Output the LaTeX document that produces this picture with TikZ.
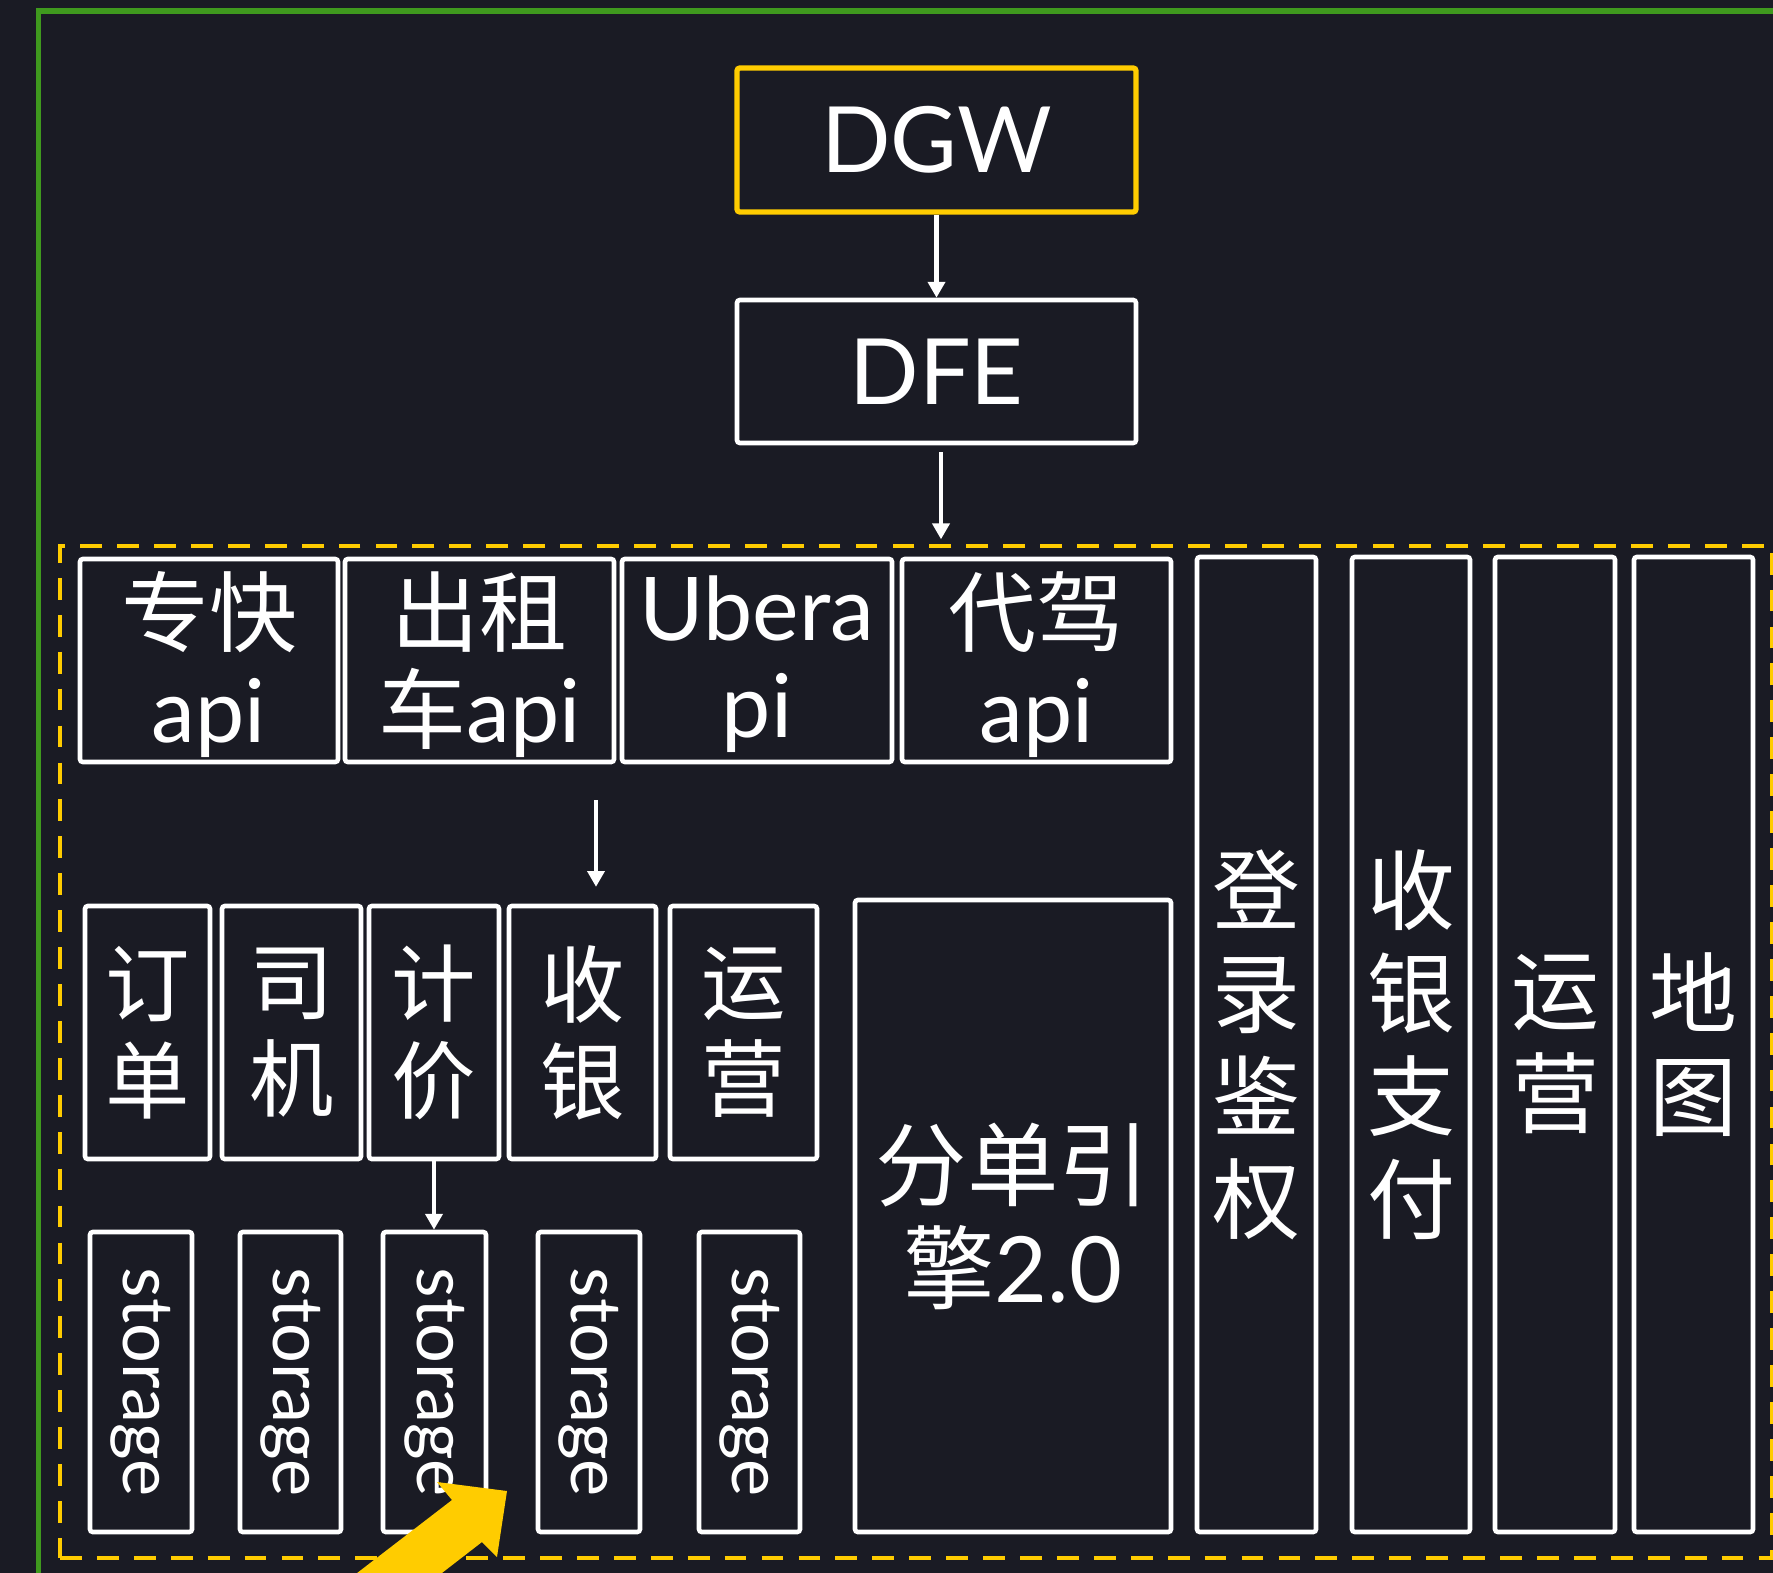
\documentclass[tikz,border=0pt]{standalone}
\usepackage{fontspec}
\setmainfont{Lato}
\newfontfamily\cjk{Noto Sans CJK SC}
\usetikzlibrary{arrows.meta,fit}
\definecolor{bgc}{HTML}{1A1B24}
\definecolor{ylw}{HTML}{FFCC00}
\definecolor{grn}{HTML}{3F991E}
\begin{document}
\begin{tikzpicture}[x=0.01cm,y=-0.01cm,
  box/.style={draw=white, line width=1.3pt, fill=bgc, rounded corners=0.8pt, inner sep=0pt},
  lbl/.style={text=white, align=center, inner sep=0pt},
  arr/.style={draw=white, line width=1.25pt, -{Triangle[width=4.8pt,length=4.5pt]}},
  fa/.style={font=\fontsize{25}{27.5}\selectfont},
  fm/.style={font=\cjk\fontsize{24}{27.6}\selectfont},
  fv/.style={font=\cjk\fontsize{25}{29.3}\selectfont},
  fb/.style={font=\fontsize{26}{29.3}\selectfont},
  fs/.style={font=\fontsize{20}{22}\selectfont},
  cont/.style={draw=ylw, line width=1.4pt, dash pattern=on 6.2pt off 4.3pt, inner sep=0pt}
]
\useasboundingbox (0,0) rectangle (1773,1573);
\clip (0,0) rectangle (1773,1573);
\fill[bgc] (0,0) rectangle (1773,1573);
% outer green frame
\draw[grn, line width=1.5pt] (38.5,1620) -- (38.5,11) -- (1800,11);
% dashed container
\node[cont, fit={(60,546)(1772,1558)}] (cont) {};
% top
\node[box, draw=ylw, line width=1.5pt, fit={(737,68)(1136,212)}] (dgw) {};
\node[box, fit={(737,300)(1136,443)}] (dfe) {};
% api row
\node[box, fit={(80,559)(338,762)}] (zk) {};
\node[box, fit={(345,559)(614,762)}] (taxi) {};
\node[box, fit={(622,559)(892,762)}] (uber) {};
\node[box, fit={(902,559)(1171,762)}] (dj) {};
% tall right boxes
\node[box, fit={(1197,557)(1316,1532)}] (auth) {};
\node[box, fit={(1352,557)(1470,1532)}] (pay) {};
\node[box, fit={(1495,557)(1615,1532)}] (ops) {};
\node[box, fit={(1634,557)(1753,1532)}] (map) {};
% middle row
\node[box, fit={(85,906)(210,1159)}] (dd) {};
\node[box, fit={(222,906)(361,1159)}] (sj) {};
\node[box, fit={(369,906)(499,1159)}] (jj) {};
\node[box, fit={(509,906)(656,1159)}] (sy) {};
\node[box, fit={(670,906)(817,1159)}] (yy) {};
% dispatch engine
\node[box, fit={(855,900)(1171,1532)}] (fd) {};
% storage row
\node[box, fit={(90,1232)(192,1532)}] (s1) {};
\node[box, fit={(240,1232)(341,1532)}] (s2) {};
\node[box, fit={(383,1232)(486,1532)}] (s3) {};
\node[box, fit={(538,1232)(640,1532)}] (s4) {};
\node[box, fit={(699,1232)(800,1532)}] (s5) {};
% labels
\node[lbl, fb] (ldgw) at (dgw.center) {DGW};
\node[lbl, fb] (ldfe) at (dfe.center) {DFE};
\node[lbl, fa] (lzk) at ([yshift=-0.04cm]zk.center) {{\cjk 专快}\\api};
\node[lbl, fa] (ltaxi) at ([yshift=-0.04cm]taxi.center) {{\cjk 出租}\\{\cjk 车}api};
\node[lbl, fa] (luber) at ([yshift=-0.04cm]uber.center) {Ubera\\pi};
\node[lbl, fa] (ldj) at ([yshift=-0.04cm]dj.center) {{\cjk 代驾}\\api};
\node[lbl, fv] (lauth) at (auth.center) {登\\录\\鉴\\权};
\node[lbl, fv] (lpay) at (pay.center) {收\\银\\支\\付};
\node[lbl, fv] (lops) at (ops.center) {运\\营};
\node[lbl, fv] (lmap) at (map.center) {地\\图};
\node[lbl, fm] (ldd) at (dd.center) {订\\单};
\node[lbl, fm] (lsj) at (sj.center) {司\\机};
\node[lbl, fm] (ljj) at (jj.center) {计\\价};
\node[lbl, fm] (lsy) at (sy.center) {收\\银};
\node[lbl, fm] (lyy) at (yy.center) {运\\营};
\node[lbl, fb] (lfd) at (fd.center) {{\cjk 分单引}\\{\cjk 擎}2.0};
\node[lbl, fs, rotate=-90] (t1) at (s1.center) {storage};
\node[lbl, fs, rotate=-90] (t2) at (s2.center) {storage};
\node[lbl, fs, rotate=-90] (t3) at (s3.center) {storage};
\node[lbl, fs, rotate=-90] (t4) at (s4.center) {storage};
\node[lbl, fs, rotate=-90] (t5) at (s5.center) {storage};
% connectors
\coordinate (ax1) at (941,0);
\coordinate (ax2) at (596,0);
\draw[arr] (dgw.south) -- (dfe.north);
\draw[arr, shorten <=2pt, shorten >=1.2pt] (dfe.south -| ax1) -- (cont.north -| ax1);
\draw[arr, shorten <=10.2pt, shorten >=4.8pt] (taxi.south -| ax2) -- (sy.north -| ax2);
\draw[arr] (jj.south) -- (jj.south |- s3.north);
% big yellow arrow
\fill[ylw] (507,1491) -- (437,1482) -- (452,1500) -- (322,1600) -- (407,1600) -- (482,1542) -- (497,1557) -- cycle;
\end{tikzpicture}
\end{document}
